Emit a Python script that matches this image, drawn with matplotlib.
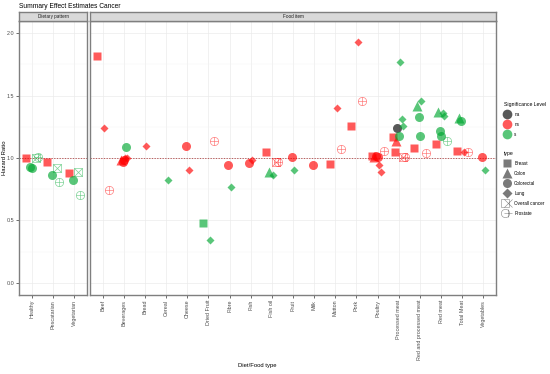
import matplotlib
matplotlib.use("Agg")
import matplotlib.pyplot as plt
from matplotlib.lines import Line2D
from matplotlib.legend_handler import HandlerTuple
import numpy as np

plt.rcParams['font.family'] = ['Liberation Sans', 'DejaVu Sans']

# ---------------- data ----------------
diet_categories = ["Healthy", "Pescatarian", "Vegetarian"]
food_categories = ["Beef", "Beverages", "Bread", "Cereal", "Cheese", "Dried Fruit", "Fibre",
                   "Fish", "Fish oil", "Fruit", "Milk", "Mutton", "Pork", "Poultry",
                   "Processed meat", "Red and processed meat", "Red meat", "Total Meat",
                   "Vegetables"]

diet_item = ["Healthy", "Healthy", "Healthy", "Healthy", "Healthy",
             "Pescatarian", "Pescatarian", "Pescatarian", "Pescatarian",
             "Vegetarian", "Vegetarian", "Vegetarian", "Vegetarian"]
diet_type = ["Breast", "Colorectal", "Colorectal", "Overall cancer", "Prostate",
             "Breast", "Colorectal", "Overall cancer", "Prostate",
             "Breast", "Colorectal", "Overall cancer", "Prostate"]
diet_sig = ["ns", "s", "s", "s", "s",
            "ns", "s", "s", "s",
            "ns", "s", "s", "s"]
diet_hr = [1.00, 0.93, 0.92, 1.00, 1.01,
           0.97, 0.86, 0.92, 0.81,
           0.88, 0.82, 0.89, 0.70]

food_item = ["Beef", "Beef", "Beef",
             "Beverages", "Beverages", "Beverages", "Beverages", "Beverages", "Beverages",
             "Bread", "Cereal", "Cheese", "Cheese",
             "Dried Fruit", "Dried Fruit", "Dried Fruit",
             "Fibre", "Fibre", "Fish", "Fish",
             "Fish oil", "Fish oil", "Fish oil", "Fish oil", "Fish oil",
             "Fruit", "Fruit", "Milk",
             "Mutton", "Mutton", "Mutton",
             "Pork", "Pork", "Pork",
             "Poultry", "Poultry", "Poultry", "Poultry", "Poultry", "Poultry", "Poultry",
             "Processed meat", "Processed meat", "Processed meat", "Processed meat",
             "Processed meat", "Processed meat", "Processed meat", "Processed meat",
             "Processed meat", "Processed meat",
             "Red and processed meat", "Red and processed meat", "Red and processed meat",
             "Red and processed meat", "Red and processed meat", "Red and processed meat",
             "Red meat", "Red meat", "Red meat", "Red meat", "Red meat", "Red meat", "Red meat",
             "Total Meat", "Total Meat", "Total Meat", "Total Meat", "Total Meat",
             "Vegetables", "Vegetables"]
food_type = ["Breast", "Lung", "Prostate",
             "Colon", "Colorectal", "Colorectal", "Colorectal", "Lung", "Lung",
             "Lung", "Lung", "Colorectal", "Lung",
             "Breast", "Lung", "Prostate",
             "Colorectal", "Lung", "Colorectal", "Lung",
             "Breast", "Colon", "Lung", "Overall cancer", "Prostate",
             "Colorectal", "Lung", "Colorectal",
             "Breast", "Lung", "Prostate",
             "Breast", "Lung", "Prostate",
             "Breast", "Colon", "Colorectal", "Colorectal", "Lung", "Lung", "Prostate",
             "Breast", "Breast", "Colon", "Colorectal", "Colorectal",
             "Lung", "Lung", "Lung", "Overall cancer", "Prostate",
             "Breast", "Colon", "Colorectal", "Colorectal", "Lung", "Prostate",
             "Breast", "Colon", "Colorectal", "Colorectal", "Lung", "Lung", "Prostate",
             "Breast", "Colon", "Colorectal", "Lung", "Prostate",
             "Colorectal", "Lung"]
food_sig = ["ns", "ns", "ns",
            "ns", "ns", "ns", "s", "ns", "ns",
            "ns", "s", "ns", "ns",
            "s", "s", "ns",
            "ns", "s", "ns", "ns",
            "ns", "s", "s", "ns", "ns",
            "ns", "s", "ns",
            "ns", "ns", "ns",
            "ns", "ns", "ns",
            "ns", "ns", "ns", "ns", "ns", "ns", "ns",
            "ns", "ns", "ns", "na", "s",
            "s", "s", "s", "ns", "ns",
            "ns", "s", "s", "s", "s", "ns",
            "ns", "s", "s", "s", "s", "s", "s",
            "ns", "s", "s", "ns", "ns",
            "ns", "s"]
food_hr = [1.82, 1.24, 0.74,
           0.98, 0.97, 0.98, 1.09, 1.00, 1.00,
           1.10, 0.82, 1.10, 0.90,
           0.48, 0.34, 1.14,
           0.94, 0.77, 0.96, 0.98,
           1.05, 0.89, 0.86, 0.97, 0.97,
           1.01, 0.90, 0.94,
           0.95, 1.40, 1.07,
           1.26, 1.93, 1.46,
           1.02, 1.01, 1.02, 1.01, 0.94, 0.89, 1.06,
           1.17, 1.05, 1.14, 1.24, 1.18,
           1.77, 1.31, 1.26, 1.01, 1.01,
           1.08, 1.42, 1.33, 1.18, 1.46, 1.04,
           1.11, 1.37, 1.22, 1.18, 1.36, 1.34, 1.14,
           1.06, 1.32, 1.30, 1.05, 1.05,
           1.01, 0.90]

sig_levels = ["na", "ns", "s"]
type_levels = ["Breast", "Colon", "Colorectal", "Lung", "Overall cancer", "Prostate"]

# ---------------- styles ----------------
sig_color = {"na": "#000000", "ns": "#FF0000", "s": "#00A832"}
type_marker = {"Breast": "s", "Colon": "^", "Colorectal": "o", "Lung": "D",
               "Overall cancer": "s", "Prostate": "o"}
type_size = {"Breast": 6.0, "Colon": 6.5, "Colorectal": 6.5, "Lung": 4.3,
             "Overall cancer": 6.0, "Prostate": 6.0}
type_offset = {"Breast": -0.26, "Colon": -0.15, "Colorectal": -0.06, "Lung": 0.07,
               "Overall cancer": 0.19, "Prostate": 0.28}
hollow = {"Overall cancer": "x", "Prostate": "+"}
ALPHA = 0.65

W, H = 550, 374
fig = plt.figure(figsize=(W / 100, H / 100), dpi=100)


def rect(x0, y0, x1, y1):
    return [x0 / W, 1 - y1 / H, (x1 - x0) / W, (y1 - y0) / H]


ax_l = fig.add_axes(rect(19, 21, 87, 295))
ax_r = fig.add_axes(rect(90, 21, 496, 295))
st_l = fig.add_axes(rect(19, 12, 87, 21))
st_r = fig.add_axes(rect(90, 12, 496, 21))

grey_txt = "#4D4D4D"


def draw_panel(ax, cats, items, types, sigs, hrs):
    ax.set_xlim(0.4, len(cats) + 0.6)
    ax.set_ylim(-0.097, 2.097)
    ax.set_facecolor("white")
    for sp in ax.spines.values():
        sp.set_color("#7F7F7F")
        sp.set_linewidth(1.0)
    ax.set_yticks([0, 0.5, 1.0, 1.5, 2.0])
    ax.set_yticks([0.25, 0.75, 1.25, 1.75], minor=True)
    ax.set_xticks(np.arange(1, len(cats) + 1))
    ax.set_xticklabels(cats, rotation=90, fontsize=3.9, color=grey_txt)
    ax.grid(True, which="major", color="#EBEBEB", linewidth=0.5)
    ax.grid(True, which="minor", axis="y", color="#F4F4F4", linewidth=0.3)
    ax.set_axisbelow(True)
    ax.tick_params(axis="both", which="major", length=2, width=0.5, color="#333333", pad=1.5)
    ax.tick_params(axis="both", which="minor", length=0)
    ax.axhline(1.0, color="#B04545", linestyle=(0, (1.6, 1.6)), linewidth=0.6, zorder=1)
    seen = {}
    for it, ty, sg, v in zip(items, types, sigs, hrs):
        key = (it, ty)
        k = seen.get(key, 0)
        seen[key] = k + 1
        x = cats.index(it) + 1 + type_offset[ty] + 0.07 * k
        c = sig_color[sg]
        if ty in hollow:
            ax.plot([x], [v], linestyle="none", marker=type_marker[ty], markersize=type_size[ty],
                    markerfacecolor="none", markeredgecolor=c, markeredgewidth=0.5,
                    alpha=0.5, zorder=3)
            ax.plot([x], [v], linestyle="none", marker=hollow[ty], markersize=type_size[ty] * 0.95,
                    markeredgecolor=c, markeredgewidth=0.5, alpha=0.5, zorder=3)
        else:
            ax.plot([x], [v], linestyle="none", marker=type_marker[ty], markersize=type_size[ty],
                    markerfacecolor=c, markeredgecolor="none", alpha=ALPHA, zorder=3)


draw_panel(ax_l, diet_categories, diet_item, diet_type, diet_sig, diet_hr)
draw_panel(ax_r, food_categories, food_item, food_type, food_sig, food_hr)
ax_l.set_yticklabels(["0.0", "0.5", "1.0", "1.5", "2.0"], fontsize=3.9, color=grey_txt)
ax_r.tick_params(axis="y", labelleft=False, length=0)

for st, label in [(st_l, "Dietary pattern"), (st_r, "Food item")]:
    st.set_xticks([])
    st.set_yticks([])
    st.set_facecolor("#D9D9D9")
    for sp in st.spines.values():
        sp.set_color("#7F7F7F")
        sp.set_linewidth(1.0)
    st.text(0.5, 0.5, label, ha="center", va="center", fontsize=3.3, color="#1A1A1A",
            transform=st.transAxes)

fig.text(19 / W, 1 - 6.5 / H, "Summary Effect Estimates Cancer", ha="left", va="center",
         fontsize=4.8, color="#000000")
fig.text(5 / W, 1 - 158 / H, "Hazard Ratio", rotation=90, ha="center", va="center",
         fontsize=4.2, color="#000000")
fig.text(257 / W, 1 - 366 / H, "Diet/Food type", ha="center", va="center",
         fontsize=4.2, color="#000000")

# legends
sig_handles = [Line2D([], [], linestyle="none", marker="o", markersize=7,
                      markerfacecolor=sig_color[s], markeredgecolor="none", alpha=ALPHA)
               for s in sig_levels]
leg1 = fig.legend(sig_handles, sig_levels, title="Significance Level",
                  loc="upper left", bbox_to_anchor=(500 / W, 1 - 98 / H),
                  frameon=False, fontsize=3.3, title_fontsize=3.7,
                  handlelength=1.4, handletextpad=0.9, labelspacing=1.1, borderpad=0.3)
leg1._legend_box.align = "left"

type_handles = []
for t in type_levels:
    if t in hollow:
        h1 = Line2D([], [], linestyle="none", marker=type_marker[t], markersize=6.0,
                    markerfacecolor="none", markeredgecolor="#333333", markeredgewidth=0.4, alpha=0.6)
        h2 = Line2D([], [], linestyle="none", marker=hollow[t], markersize=5.7,
                    markeredgecolor="#333333", markeredgewidth=0.4, alpha=0.6)
        type_handles.append((h1, h2))
    else:
        type_handles.append(Line2D([], [], linestyle="none", marker=type_marker[t],
                                   markersize=type_size[t] + (0.6 if t == "Lung" else 0),
                                   markerfacecolor="#333333", markeredgecolor="none", alpha=ALPHA))
leg2 = fig.legend(type_handles, type_levels, title="type",
                  loc="upper left", bbox_to_anchor=(500 / W, 1 - 147 / H),
                  frameon=False, fontsize=3.3, title_fontsize=3.7,
                  handlelength=1.4, handletextpad=0.9, labelspacing=1.1, borderpad=0.3,
                  handler_map={tuple: HandlerTuple(ndivide=None, pad=0)})
leg2._legend_box.align = "left"

fig.savefig("out.png", dpi=100, facecolor="white")
